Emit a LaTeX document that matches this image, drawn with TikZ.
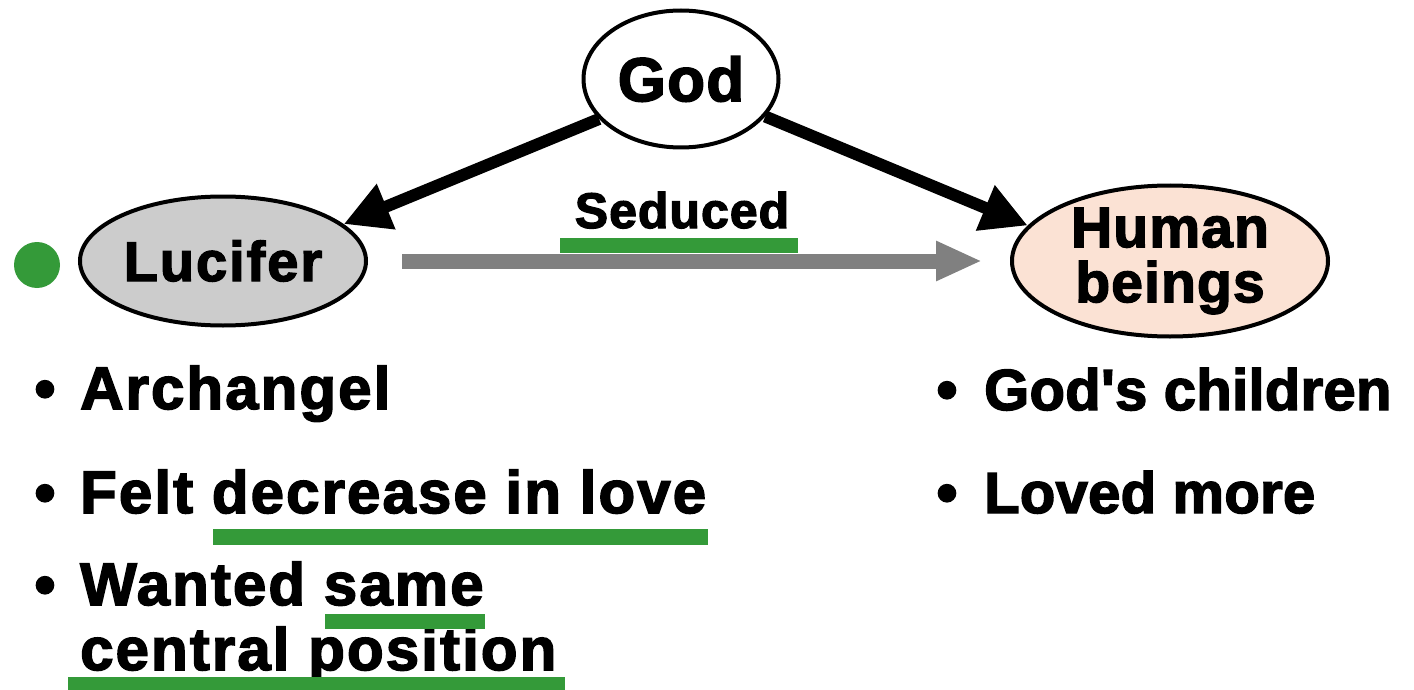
\documentclass[tikz,border=0pt]{standalone}
\usepackage{fontspec}
\usetikzlibrary{shapes.geometric,arrows.meta}
\newfontfamily\heavy{Liberation Sans Bold}[FakeBold=2.5,LetterSpace=3.5]
\newfontfamily\heavyr{Liberation Sans Bold}[FakeBold=2.5,LetterSpace=0.5]
\newfontfamily\heavyc{Liberation Sans Bold}[FakeBold=2.5,LetterSpace=2]
\definecolor{ugreen}{RGB}{52,154,57}
\definecolor{lucgray}{RGB}{204,204,204}
\definecolor{peach}{RGB}{251,226,212}
\definecolor{arrgray}{RGB}{128,128,128}
\tikzset{
  ent/.style={ellipse, draw=black, line width=4pt, inner sep=0pt, align=center},
  txt/.style={inner sep=0pt, anchor=base west, font=\heavy\fontsize{60}{62}\selectfont},
  txtr/.style={inner sep=0pt, anchor=base west, font=\heavyr\fontsize{58}{60}\selectfont},
  bul/.style={inner sep=0pt, anchor=base, font=\heavyr\fontsize{60}{62}\selectfont},
  blackarrow/.style={line width=12pt, black, -{Triangle[length=46pt,width=46pt]}},
  grayarrow/.style={line width=15pt, arrgray, -{Triangle[length=46pt,width=37pt]}},
  uline/.style={fill=ugreen, draw=none},
}
\begin{document}
\begin{tikzpicture}[x=1pt,y=-1pt]
\useasboundingbox (0,0) rectangle (1414,690);
% entities
\node[ent, fill=white, minimum width=195pt, minimum height=137pt,
      font=\heavyc\fontsize{62}{64}\selectfont] (god) at (681,79) {God};
\node[ent, fill=lucgray, minimum width=286pt, minimum height=129pt,
      font=\heavy\fontsize{56}{58}\selectfont] (lucifer) at (223,261) {Lucifer};
\node[ent, fill=peach, minimum width=316pt, minimum height=151pt,
      font=\heavyc\fontsize{57}{55}\selectfont] (human) at (1170,261) {Human\\beings};
\fill[ugreen] (37,265) circle (23pt);
% connectors
\draw[blackarrow] (god.206) -- (lucifer.17);
\draw[blackarrow] (god.336) -- (human.166);
\draw[grayarrow, shorten <=34pt, shorten >=28pt] (lucifer.east) -- (human.west);
\node[inner sep=0pt, anchor=base, font=\heavyc\fontsize{50}{52}\selectfont] (seduced) at (682,228) {Seduced};
\fill[uline] (560,238) rectangle (798,253);
% left bullets
\node[bul] (b1) at (45,409) {•};
\node[txt] (t1) at (80,409) {Archangel};
\node[bul] (b2) at (45,513) {•};
\node[txt] (t2) at (80,513) {Felt decrease in love};
\node[bul] (b3) at (45,605) {•};
\node[txt] (t3) at (80,605) {Wanted same};
\node[txt] (t4) at (80,670) {central position};
\fill[uline] (213,529) rectangle (708,545);
\fill[uline] (325,614) rectangle (485,629);
\fill[uline] (68,677) rectangle (565,690);
% right bullets
\node[bul] (b5) at (947,410) {•};
\node[txtr] (t5) at (984,410) {God's children};
\node[bul] (b6) at (947,513) {•};
\node[txtr] (t6) at (984,513) {Loved more};
\end{tikzpicture}
\end{document}
